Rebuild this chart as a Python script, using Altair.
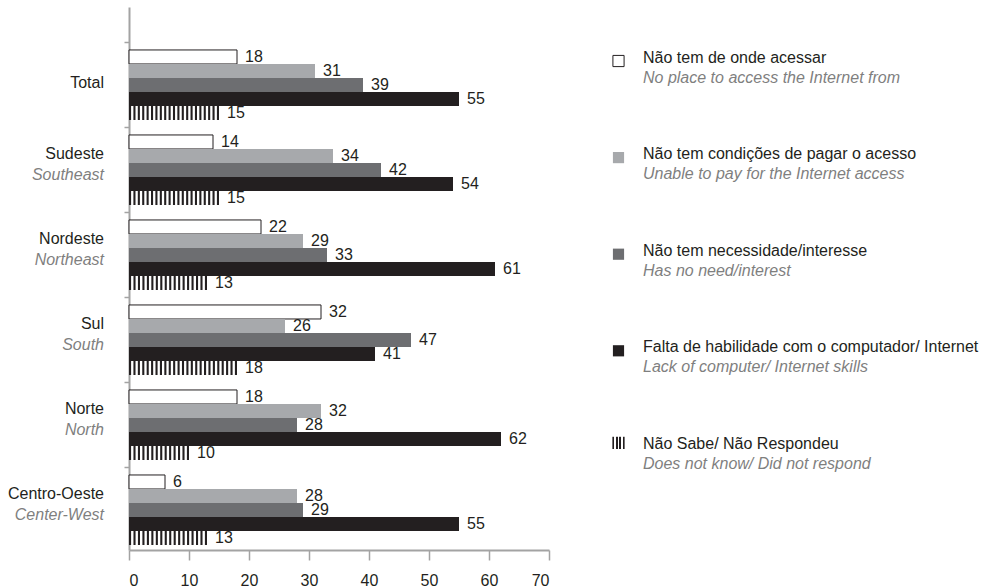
import altair as alt
import pandas as pd

# Regions (Portuguese name, English name underneath)
regions_pt = ["Total", "Sudeste", "Nordeste", "Sul", "Norte", "Centro-Oeste"]
regions_en = ["", "Southeast", "Northeast", "South", "North", "Center-West"]

# Reasons for not using the Internet
series_pt = [
    "Não tem de onde acessar",
    "Não tem condições de pagar o acesso",
    "Não tem necessidade/interesse",
    "Falta de habilidade com o computador/ Internet",
    "Não Sabe/ Não Respondeu",
]
series_en = [
    "No place to access the Internet from",
    "Unable to pay for the Internet access",
    "Has no need/interest",
    "Lack of computer/ Internet skills",
    "Does not know/ Did not respond",
]

# Percentages per region, in the order of regions_pt
no_place = [18, 14, 22, 32, 18, 6]
cannot_pay = [31, 34, 29, 26, 32, 28]
no_need = [39, 42, 33, 47, 28, 29]
no_skills = [55, 54, 61, 41, 62, 55]
no_answer = [15, 15, 13, 18, 10, 13]

x_ticks = [0, 10, 20, 30, 40, 50, 60, 70]

FONT = "Liberation Sans"
INK = "#231f20"
GREY_TEXT = "#7f7f7f"
AXIS_GREY = "#a3a3a3"
solid_fills = ["#ffffff", "#a7a9ac", "#6d6e71", INK]

all_values = [no_place, cannot_pay, no_need, no_skills, no_answer]
rows = []
for s, vals in zip(series_pt, all_values):
    for r, v in zip(regions_pt, vals):
        rows.append({"region": r, "series": s, "value": v})
values_df = pd.DataFrame(rows)
solid_df = values_df[values_df["series"] != series_pt[4]]

# vertical hatch for the "does not know" bars: thin black strips from 0 to the value
stripe_w = 0.35
stripe_rows = []
for r, v in zip(regions_pt, no_answer):
    n = max(2, round(v / 0.714))
    step = (v - stripe_w) / (n - 1)
    for k in range(n):
        x0 = k * step
        stripe_rows.append({"region": r, "series": series_pt[4], "x0": x0, "x1": x0 + stripe_w})
stripes_df = pd.DataFrame(stripe_rows)

region_df = pd.DataFrame({"region": regions_pt, "en": regions_en})
legend_df = pd.DataFrame({"series": series_pt, "en": series_en})

x_scale = alt.Scale(domain=[0, 70], nice=False)
x_axis = alt.Axis(
    values=x_ticks, format="d", title=None, grid=False,
    domainColor=AXIS_GREY, domainWidth=2, tickColor=AXIS_GREY, tickWidth=1.5, tickSize=10,
    labelFont=FONT, labelFontSize=16, labelColor=INK, labelPadding=12,
)
y_scale = alt.Scale(domain=regions_pt, paddingInner=0.176, paddingOuter=0.282, align=0.896)
y_axis = alt.Axis(
    labels=False, title=None, grid=False, bandPosition=0, tickOffset=-7.5,
    domainColor=AXIS_GREY, domainWidth=2, tickColor=AXIS_GREY, tickWidth=1.5, tickSize=5,
)
y_enc = alt.Y("region:N", scale=y_scale, axis=y_axis)
yoff = alt.YOffset("series:N", scale=alt.Scale(domain=series_pt, paddingInner=0, paddingOuter=0))

bars = alt.Chart(solid_df).mark_bar(stroke=INK).encode(
    x=alt.X("value:Q", scale=x_scale, axis=x_axis),
    y=y_enc,
    yOffset=yoff,
    fill=alt.Fill("series:N", scale=alt.Scale(domain=series_pt[:4], range=solid_fills), legend=None),
    strokeWidth=alt.condition(alt.datum.series == series_pt[0], alt.value(1), alt.value(0)),
)

stripes = alt.Chart(stripes_df).mark_bar(color=INK, yOffset=1).encode(
    x=alt.X("x0:Q", scale=x_scale, axis=x_axis),
    x2="x1:Q",
    y=y_enc,
    yOffset=yoff,
)

value_labels = alt.Chart(values_df).mark_text(
    align="left", baseline="middle", dx=8, fontSize=16, font=FONT, color=INK
).encode(
    x=alt.X("value:Q", scale=x_scale, axis=x_axis),
    y=y_enc,
    yOffset=yoff,
    text="value:Q",
)

region_base = alt.Chart(region_df)
region_pt_two = region_base.transform_filter(alt.datum.en != "").mark_text(
    align="right", baseline="middle", dy=-16, fontSize=16, font=FONT, color=INK
).encode(x=alt.value(-25), y=y_enc, text="region:N")
region_pt_one = region_base.transform_filter(alt.datum.en == "").mark_text(
    align="right", baseline="middle", dy=-2, fontSize=16, font=FONT, color=INK
).encode(x=alt.value(-25), y=y_enc, text="region:N")
region_en = region_base.transform_filter(alt.datum.en != "").mark_text(
    align="right", baseline="middle", dy=5, fontSize=16, font=FONT, fontStyle="italic", color=GREY_TEXT
).encode(x=alt.value(-25), y=y_enc, text="en:N")

main = alt.layer(bars, stripes, value_labels, region_pt_two, region_pt_one, region_en)

# Legend column on the right
leg_y = alt.Y(
    "series:N",
    scale=alt.Scale(type="point", domain=series_pt, padding=0.8106, align=0.3225),
    axis=None,
)
leg_base = alt.Chart(legend_df)
leg_squares = leg_base.transform_filter(alt.datum.series != series_pt[4]).mark_square(
    size=125, stroke=INK, opacity=1, yOffset=3.5
).encode(
    x=alt.value(489.5),
    y=leg_y,
    fill=alt.Fill("series:N", scale=alt.Scale(domain=series_pt[:4], range=solid_fills), legend=None),
    strokeWidth=alt.condition(alt.datum.series == series_pt[0], alt.value(1), alt.value(0)),
)
hatch = alt.Gradient(
    gradient="linear", x1=0, x2=1, y1=0, y2=0,
    stops=[
        alt.GradientStop(offset=0.0, color=INK), alt.GradientStop(offset=0.17, color=INK),
        alt.GradientStop(offset=0.17, color="#ffffff"), alt.GradientStop(offset=0.28, color="#ffffff"),
        alt.GradientStop(offset=0.28, color=INK), alt.GradientStop(offset=0.45, color=INK),
        alt.GradientStop(offset=0.45, color="#ffffff"), alt.GradientStop(offset=0.55, color="#ffffff"),
        alt.GradientStop(offset=0.55, color=INK), alt.GradientStop(offset=0.72, color=INK),
        alt.GradientStop(offset=0.72, color="#ffffff"), alt.GradientStop(offset=0.83, color="#ffffff"),
        alt.GradientStop(offset=0.83, color=INK), alt.GradientStop(offset=1.0, color=INK),
    ],
)
leg_hatch = leg_base.transform_filter(alt.datum.series == series_pt[4]).mark_square(
    size=150, fill=hatch, opacity=1, yOffset=-1
).encode(x=alt.value(489.5), y=leg_y)
leg_text_pt = leg_base.mark_text(
    align="left", baseline="middle", fontSize=16, font=FONT, color=INK
).encode(x=alt.value(514), y=leg_y, text="series:N")
leg_text_en = leg_base.mark_text(
    align="left", baseline="middle", dy=20, fontSize=16, font=FONT, fontStyle="italic", color=GREY_TEXT
).encode(x=alt.value(514), y=leg_y, text="en:N")

legend = alt.layer(leg_squares, leg_hatch, leg_text_pt, leg_text_en)

chart = (
    alt.layer(main, legend)
    .resolve_scale(y="independent")
    .properties(
        width=420,
        height=543,
        autosize=alt.AutoSizeParams(type="none"),
        padding={"left": 129, "top": 7, "right": 433, "bottom": 37},
        background="#ffffff",
    )
    .configure_view(stroke=None)
)

chart.save("out.html", embed_options={"renderer": "svg", "actions": False})
